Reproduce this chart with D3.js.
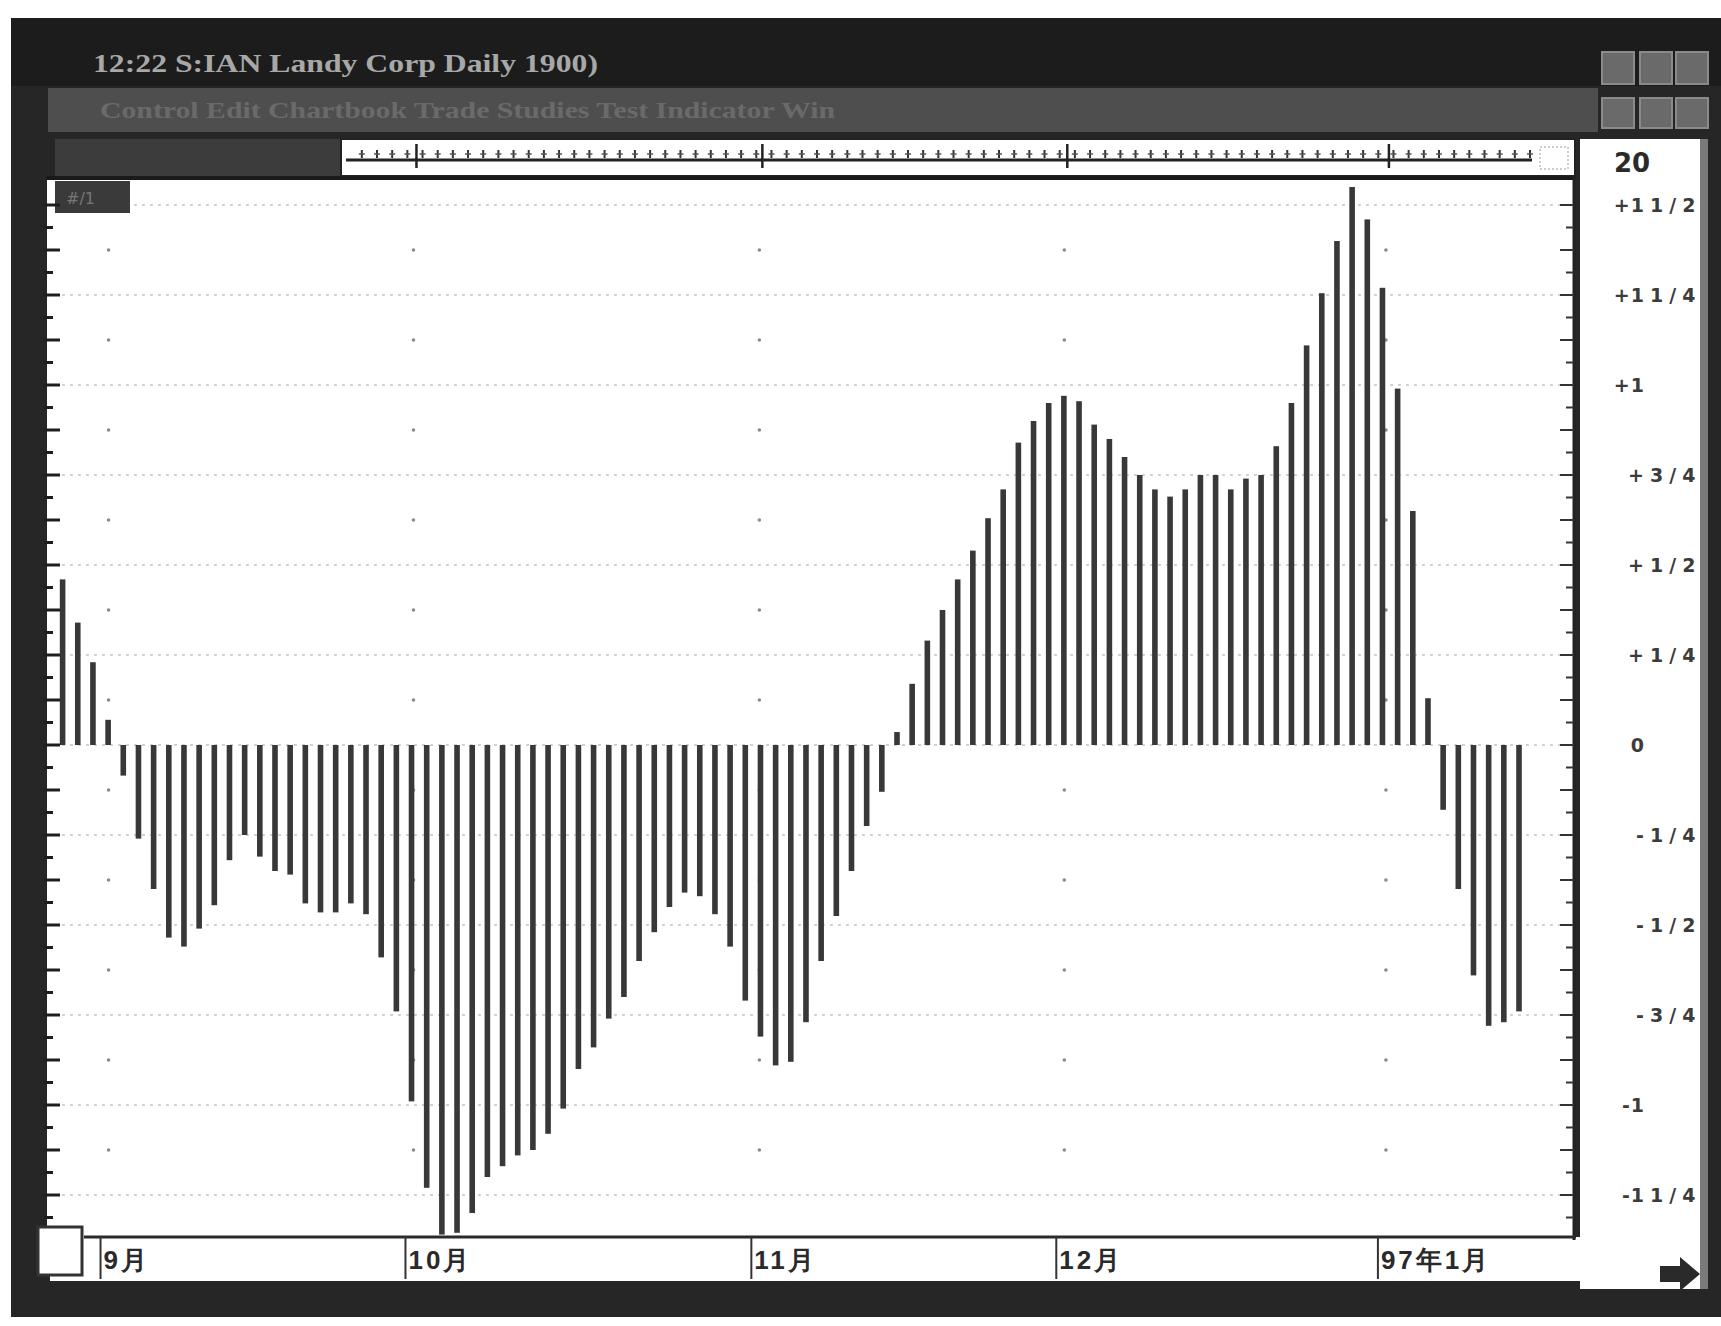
<!DOCTYPE html>
<html><head><meta charset="utf-8">
<script src="https://cdn.jsdelivr.net/npm/d3@7"></script>
<style>html,body{margin:0;padding:0;background:#fff;} svg{display:block}</style>
</head><body>
<svg id="c" width="1721" height="1326"></svg>
<script>
// ---- data ----
const osc = [
 0.46, 0.34, 0.23, 0.07,
 -0.085, -0.26, -0.40, -0.535, -0.56, -0.51, -0.445, -0.32, -0.25, -0.31, -0.35, -0.36,
 -0.44, -0.465, -0.465, -0.44, -0.47, -0.59, -0.74, -0.99, -1.23, -1.36, -1.355, -1.30,
 -1.20, -1.17, -1.14, -1.125, -1.08, -1.01, -0.90, -0.84, -0.76, -0.70, -0.60, -0.52,
 -0.45, -0.41, -0.42, -0.47, -0.56, -0.71, -0.81, -0.89, -0.88, -0.77, -0.60, -0.475,
 -0.35, -0.225, -0.13,
 0.036, 0.17, 0.29, 0.375, 0.46, 0.54, 0.63, 0.71, 0.84, 0.90, 0.95, 0.97, 0.955,
 0.89, 0.85, 0.80, 0.75, 0.71, 0.69, 0.71, 0.75, 0.75, 0.71, 0.74, 0.75, 0.83, 0.95,
 1.11, 1.255, 1.40, 1.55, 1.46, 1.27, 0.99, 0.65, 0.13,
 -0.18, -0.40, -0.64, -0.78, -0.77, -0.74
];
const monthLabels = ["9月", "10月", "11月", "12月", "97年1月"];
const monthAt = [3.5, 23.6, 46.4, 66.5, 87.7];
const yTickValues = [1.5, 1.25, 1, 0.75, 0.5, 0.25, 0, -0.25, -0.5, -0.75, -1, -1.25];
const yTickLabels = ["+1 1/2", "+1 1/4", "+1", "+3/4", "+1/2", "+1/4", "0", "-1/4", "-1/2", "-3/4", "-1", "-1 1/4"];
const titleText = "12:22  S:IAN   Landy Corp  Daily   1900)";
const menuText = "Control   Edit   Chartbook   Trade   Studies   Test Indicator   Win";
const priceLabel = "20";
const panelTag = "#/1";

// ---- drawing ----
const svg = d3.select("#c");
const W = 1721, H = 1326;
const plot = {x0: 47, x1: 1573, y0: 180, y1: 1237};

svg.append("rect").attr("width", W).attr("height", H).attr("fill", "#fff");
// window frame
svg.append("rect").attr("x", 11).attr("y", 18).attr("width", W - 11).attr("height", 1299).attr("fill", "#262626");
// title bar
svg.append("rect").attr("x", 11).attr("y", 18).attr("width", W - 11).attr("height", 68).attr("fill", "#1c1c1c");
svg.append("text").attr("x", 93).attr("y", 72).text(titleText)
  .attr("font-family", "Liberation Serif").attr("font-weight", "bold").attr("font-size", 25).attr("fill", "#a8a8a8")
  .attr("textLength", 505).attr("lengthAdjust", "spacingAndGlyphs");
// menu bar
svg.append("rect").attr("x", 48).attr("y", 88).attr("width", 1550).attr("height", 44).attr("fill", "#4e4e4e");
svg.append("text").attr("x", 100).attr("y", 118).text(menuText)
  .attr("font-family", "Liberation Serif").attr("font-weight", "bold").attr("font-size", 24).attr("fill", "#6a6a6a")
  .attr("textLength", 735).attr("lengthAdjust", "spacingAndGlyphs");
// window buttons
[[52, 32], [98, 30]].forEach(([yy, hh]) => {
  [1602, 1640, 1676].forEach(xx => {
    svg.append("rect").attr("x", xx).attr("y", yy).attr("width", 32).attr("height", hh)
      .attr("fill", "#6a6a6a").attr("stroke", "#8a8a8a").attr("stroke-width", 2);
  });
});

// row 3 left dark block
svg.append("rect").attr("x", 55).attr("y", 139).attr("width", 286).attr("height", 37).attr("fill", "#3c3c3c");
// mini strip
svg.append("rect").attr("x", 341).attr("y", 139).attr("width", 1234).attr("height", 37).attr("fill", "#fff")
  .attr("stroke", "#222").attr("stroke-width", 2);

// right panel
svg.append("rect").attr("x", 1580).attr("y", 139).attr("width", 124).attr("height", 1150).attr("fill", "#fff");
svg.append("rect").attr("x", 1700).attr("y", 139).attr("width", 8).attr("height", 1150).attr("fill", "#7a7a7a");

// plot area
svg.append("rect").attr("x", plot.x0).attr("y", plot.y0).attr("width", plot.x1 - plot.x0).attr("height", plot.y1 - plot.y0).attr("fill", "#fff");
// bottom axis strip
svg.append("rect").attr("x", 50).attr("y", plot.y1).attr("width", 1530).attr("height", 44).attr("fill", "#fff");

const x = d3.scaleLinear().domain([1, osc.length]).range([62.6, 1519]);
const y = d3.scaleLinear().domain([0, 1]).range([745, 385]);

// mini strip contents
const mini = svg.append("g");
mini.append("line").attr("x1", 346).attr("x2", 1532).attr("y1", 160).attr("y2", 160).attr("stroke", "#222").attr("stroke-width", 3);
osc.forEach((d, i) => {
  const xx = x(i + 1) + 11;
  if (xx < 350 || xx > 1530) return;
  mini.append("line").attr("x1", xx).attr("x2", xx).attr("y1", 150).attr("y2", 158).attr("stroke", "#333").attr("stroke-width", 2);
  mini.append("line").attr("x1", xx - 3).attr("x2", xx + 3).attr("y1", 154).attr("y2", 154).attr("stroke", "#555").attr("stroke-width", 1.5);
});
monthAt.forEach(m => {
  const xx = x(m) + 11;
  if (xx < 350) return;
  mini.append("line").attr("x1", xx).attr("x2", xx).attr("y1", 144).attr("y2", 168).attr("stroke", "#222").attr("stroke-width", 2.5);
});
mini.append("rect").attr("x", 1540).attr("y", 147).attr("width", 28).attr("height", 22).attr("fill", "none")
  .attr("stroke", "#999").attr("stroke-dasharray", "2,2");

// horizontal dotted grid
svg.append("g").selectAll("line").data(yTickValues).join("line")
  .attr("x1", 62).attr("x2", 1562).attr("y1", d => y(d)).attr("y2", d => y(d))
  .attr("stroke", "#d2d2d2").attr("stroke-width", 2).attr("stroke-dasharray", "3,5");
// vertical dotted grid (dots)
const dotVals = d3.range(-11, 12).map(k => (k + 0.5) / 4).filter(v => y(v) > plot.y0 + 10 && y(v) < plot.y1 - 5);
monthAt.forEach(m => {
  svg.append("g").selectAll("circle").data(dotVals).join("circle")
    .attr("cx", x(m) + 8).attr("cy", d => y(d)).attr("r", 1.8).attr("fill", "#8a8a8a");
});

// bars
svg.append("g").selectAll("rect").data(osc).join("rect")
  .attr("x", (d, i) => x(i + 1) - 2.8)
  .attr("width", 5.6)
  .attr("y", d => Math.min(y(d), y(0)))
  .attr("height", d => Math.abs(y(d) - y(0)))
  .attr("fill", "#383838");

// plot borders
svg.append("line").attr("x1", 46).attr("x2", 1576).attr("y1", 178).attr("y2", 178).attr("stroke", "#1a1a1a").attr("stroke-width", 4);
svg.append("line").attr("x1", 1574).attr("x2", 1574).attr("y1", 176).attr("y2", 1240).attr("stroke", "#222").attr("stroke-width", 3);
svg.append("line").attr("x1", 84).attr("x2", 1576).attr("y1", plot.y1).attr("y2", plot.y1).attr("stroke", "#2a2a2a").attr("stroke-width", 3);

// tag box top-left
svg.append("rect").attr("x", 55).attr("y", 181).attr("width", 75).attr("height", 32).attr("fill", "#3a3a3a");
svg.append("text").attr("x", 66).attr("y", 204).text(panelTag).attr("font-family", "DejaVu Sans").attr("font-size", 16).attr("fill", "#777");

// side ticks (left and right)
const tickVals = d3.range(-22, 27).map(k => k / 16).filter(v => y(v) > plot.y0 + 4 && y(v) < plot.y1 - 12);
svg.append("g").selectAll("line").data(tickVals).join("line")
  .attr("x1", 44).attr("x2", d => (Math.round(d * 16) % 2 === 0) ? 60 : 53)
  .attr("y1", d => y(d)).attr("y2", d => y(d)).attr("stroke", "#1e1e1e").attr("stroke-width", 3);
svg.append("g").selectAll("line").data(tickVals).join("line")
  .attr("x1", 1574).attr("x2", d => (Math.round(d * 16) % 2 === 0) ? 1560 : 1566)
  .attr("y1", d => y(d)).attr("y2", d => y(d)).attr("stroke", "#333").attr("stroke-width", 2);

// right axis labels: whole part right-aligned, fraction part left-aligned
const split = s => {
  const m = s.match(/^([+\-]?\d*)\s*(\d+\/\d+)?$/);
  return {whole: m[1], frac: m[2] || ""};
};
const labG = svg.append("g").attr("font-family", "DejaVu Sans").attr("font-weight", "bold").attr("fill", "#3c3c3c");
yTickValues.forEach((v, i) => {
  const p = split(yTickLabels[i]);
  labG.append("text").attr("x", 1645).attr("y", y(v) + 7).attr("text-anchor", "end")
    .attr("font-size", 19).attr("letter-spacing", 1).text(p.whole);
  if (p.frac) labG.append("text").attr("x", 1650).attr("y", y(v) + 7)
    .attr("font-size", 19).attr("letter-spacing", 6).text(p.frac);
});
svg.append("text").attr("x", 1614).attr("y", 172).text(priceLabel)
  .attr("font-family", "DejaVu Sans").attr("font-weight", "bold").attr("font-size", 26).attr("fill", "#2a2a2a");

// bottom month axis
const mg = svg.append("g");
monthAt.forEach((m, i) => {
  const xx = x(m);
  mg.append("line").attr("x1", xx).attr("x2", xx).attr("y1", plot.y1).attr("y2", 1279).attr("stroke", "#333").attr("stroke-width", 2);
  mg.append("text").attr("x", xx + 3).attr("y", 1269).text(monthLabels[i])
    .attr("font-family", "Liberation Sans").attr("font-weight", "bold").attr("font-size", 26)
    .attr("letter-spacing", 3).attr("fill", "#2a2a2a");
});
// small box bottom-left
svg.append("rect").attr("x", 38).attr("y", 1227).attr("width", 44).attr("height", 48).attr("fill", "#fff")
  .attr("stroke", "#333").attr("stroke-width", 3);
// arrow
svg.append("path").attr("d", "M1660,1266 L1680,1266 L1680,1257 L1700,1274 L1680,1291 L1680,1282 L1660,1282 Z").attr("fill", "#2a2a2a");
</script>
</body></html>
